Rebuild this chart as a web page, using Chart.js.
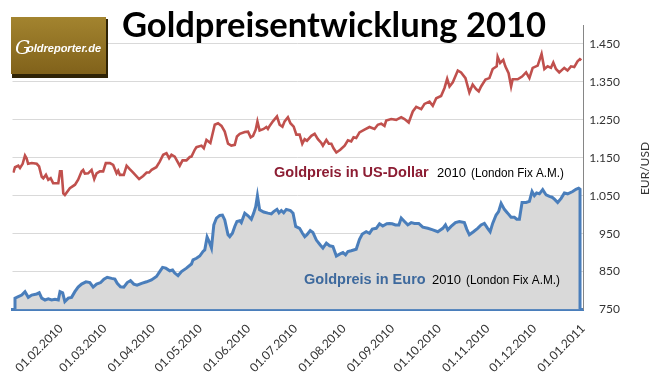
<!DOCTYPE html>
<html>
<head>
<meta charset="utf-8">
<script src="https://cdn.jsdelivr.net/npm/chart.js@4.4.0/dist/chart.umd.min.js"></script>
<style>
  html, body { margin: 0; padding: 0; background: #fff; }
</style>
</head>
<body>
<canvas id="gold" width="658" height="385"></canvas>
<script>
// Tage seit 01.01.2010 und Goldpreis in USD (London Fix A.M.)
const usdDays = [0.5,1.6,3.7,4.8,6.5,8,9,10,12.3,15.5,17,18.7,19.7,21.4,22.9,24.4,26,29.3,30.4,31.4,32.5,33.5,36.7,40,42,44.2,45.2,46.3,48.4,50.6,52.3,53.8,55.9,58,59.7,62.3,64.4,66.6,67.6,68.7,71.2,73,75,77.2,81,83.6,85.8,87.4,89,92,94.2,96.4,98.5,100.2,101.7,103.8,107,108.8,111.3,113.4,114.5,116.6,117.7,120.9,122.4,124.1,126.6,129.4,131.5,133.7,135.8,137.9,140,142.2,143.6,145.4,148.6,150.7,152.4,153.9,155.6,156.7,158.1,160.7,162.4,163.4,164.5,166.6,169.2,170.9,172.7,174.1,176.2,177.8,179.9,181.6,183.7,185.4,186.9,188.4,191.2,193.3,195.4,197.6,198.6,200.8,202.4,204,205.4,207.2,209.7,212.5,214.6,216.7,218.2,219.9,222,225.2,228.4,231.6,233.7,235.9,238,239.1,242.3,245.5,248.7,250.8,253.5,256.1,258.3,261.5,263.6,266.8,268.9,271.1,274.2,276.4,278.1,279.6,281.7,284.9,287,289.8,292.3,294.4,296.6,298.3,299.8,302.6,305.1,307.2,309.8,310.4,312,314,315.3,317.4,319,320,323.2,326,328.6,330.7,332.8,336,338.5,340.3,342.4,344.5,346,347.7,349.8,353,355.1,357.3,359.4,361.5,363,363.9];
const usdPrice = [1111,1125,1129,1123,1134,1156,1149,1134,1136,1134,1127,1100,1096,1105,1092,1096,1083,1083,1114,1114,1056,1052,1070,1079,1092,1114,1118,1108,1109,1118,1094,1109,1114,1114,1136,1136,1131,1109,1116,1105,1105,1129,1120,1111,1094,1102,1111,1111,1118,1125,1140,1158,1162,1149,1158,1153,1129,1143,1143,1152,1153,1171,1178,1182,1175,1197,1189,1237,1241,1234,1219,1187,1182,1184,1206,1213,1218,1219,1204,1208,1224,1246,1222,1226,1231,1226,1234,1246,1259,1237,1232,1246,1257,1241,1232,1211,1211,1187,1199,1195,1208,1213,1199,1189,1182,1197,1187,1187,1175,1164,1171,1182,1196,1193,1204,1202,1217,1224,1231,1226,1237,1240,1234,1248,1252,1250,1257,1252,1243,1272,1284,1278,1292,1298,1287,1307,1313,1334,1358,1338,1349,1380,1375,1360,1322,1343,1331,1325,1338,1356,1360,1384,1391,1416,1400,1408,1391,1373,1338,1357,1357,1364,1375,1360,1387,1393,1424,1384,1391,1387,1401,1384,1375,1387,1380,1391,1389,1404,1410,1407];

// Tage seit 01.01.2010 und Goldpreis in Euro
const eurDays = [1.6,3.7,5.9,8,10.1,12.3,15.5,17.1,18.7,20.8,22.9,25,27.2,29.3,30.4,32.1,33.5,35.7,37.8,39.9,42,44.2,47,49.5,51.6,53.8,56.4,58.5,60.6,63.4,65.5,67,69.1,71.2,73.4,75.5,77.6,79.7,82.6,85.8,88.9,92.1,94.2,96,98.1,100.6,102.4,103.8,105.9,108.1,111.3,114.5,115.5,117.7,119.8,121.9,123,124.5,125.8,127.3,128.8,130.5,132.6,134.3,135.8,137.9,139,140.7,142.2,143.6,145.4,146.4,148.6,150.7,152.8,154.3,155.6,156.7,158.1,160.7,163.4,165.6,167.1,169.2,170.5,172,173.5,175.2,177.8,179.5,181.2,183.7,185.5,187,188.4,190.5,192.2,194.4,196.9,198.6,200.8,202.9,205,207.2,209.3,211.4,213.1,214.6,216.7,219.9,222,223.8,226.3,228.4,230.2,232.7,234.8,236.9,239.5,241.2,242.9,245,247.2,248.7,250.8,252.9,255.1,257.2,259.9,262.5,265.7,268.9,272.1,275.3,277,278.5,280.6,283.4,285.9,289.1,290.6,292.3,294.9,297.6,299.8,301.9,304,305.6,307.2,309.4,311,312.6,314.7,316.8,319,321.1,322.6,324.3,326,328.6,330.7,332.4,333.9,335.3,337.1,339.2,341.4,343.5,345.2,346.7,348.8,351,353.1,355.2,358.4,360.5,362.2,363.1];
const eurPrice = [780,784,788,797,782,788,791,794,780,775,778,775,777,775,797,794,771,780,782,797,809,817,823,821,809,817,821,830,835,832,830,819,810,809,821,826,817,814,819,823,828,837,850,861,859,852,854,846,839,850,859,870,881,885,891,903,907,941,929,912,973,991,998,999,986,947,942,951,969,982,984,979,1004,997,988,1004,1021,1050,1013,1007,1004,1002,1008,1014,1005,1011,1005,1014,1011,1004,969,964,951,942,947,958,953,933,920,912,925,918,916,891,896,900,894,903,905,909,935,949,955,951,962,964,976,970,976,977,976,973,973,991,982,973,979,977,977,967,964,960,955,964,973,960,969,979,982,979,962,947,955,964,973,977,964,955,977,999,1008,1030,1014,1004,993,993,988,988,1032,1032,1035,1061,1050,1057,1055,1066,1052,1048,1046,1041,1032,1043,1057,1055,1061,1067,1070,1067];

// Achsen
const monthLabels = ['01.02.2010','01.03.2010','01.04.2010','01.05.2010','01.06.2010','01.07.2010','01.08.2010','01.09.2010','01.10.2010','01.11.2010','01.12.2010','01.01.2011'];
const yTicks = [750, 850, 950, 1050, 1150, 1250, 1350, 1450];

const titleText = 'Goldpreisentwicklung 2010';
const usdLabel = 'Goldpreis in US-Dollar';
const eurLabel = 'Goldpreis in Euro';
const yearText = '2010';
const fixText = '(London Fix A.M.)';
const axisTitle = 'EUR/USD';
const logoText = 'oldreporter.de';

const yMin = 750, yMax = 1500;

function dayOf(label) {
  const p = label.split('.');
  return (Date.UTC(+p[2], +p[1] - 1, +p[0]) - Date.UTC(2010, 0, 1)) / 864e5;
}
function fmt(v) {
  if (v < 1000) return String(v);
  return Math.floor(v / 1000) + '.' + String(v % 1000).padStart(3, '0');
}

const usdData = usdDays.map((d, i) => ({ x: d, y: usdPrice[i] }));
const eurData = eurDays.map((d, i) => ({ x: d, y: eurPrice[i] }));
// Flaeche unten schliessen
eurData.unshift({ x: eurDays[0], y: yMin });
eurData.push({ x: eurDays[eurDays.length - 1], y: yMin });

const monthValues = monthLabels.map(dayOf);

const deko = {
  id: 'deko',
  afterDraw(chart) {
    const c = chart.ctx;
    c.save();

    // Titel
    c.fillStyle = '#000';
    c.textBaseline = 'alphabetic';
    c.textAlign = 'center';
    c.font = 'bold 38px Lato';
    let w = c.measureText(titleText).width;
    c.font = 'bold ' + (38 * 424 / w).toFixed(1) + 'px Lato';
    c.fillText(titleText, 334, 37);

    // Logo
    c.fillStyle = '#2f2306';
    c.fillRect(12, 19, 96, 59);
    const g = c.createLinearGradient(0, 17, 0, 75);
    g.addColorStop(0, '#a3842f');
    g.addColorStop(1, '#80611a');
    c.fillStyle = g;
    c.fillRect(11, 17, 95, 57);
    c.fillStyle = '#fff';
    c.textAlign = 'left';
    c.font = 'italic 19px "DejaVu Serif"';
    c.fillText('G', 15, 54);
    c.font = 'bold italic 11.5px "Liberation Sans"';
    c.fillText(logoText, 27, 52, 74);

    // Beschriftung USD
    c.font = 'bold 14.5px "Liberation Sans"';
    c.fillStyle = '#8c1d33';
    c.fillText(usdLabel, 274, 176.5, 156);
    c.fillStyle = '#000';
    c.font = '13px "Liberation Sans"';
    c.fillText(yearText, 437, 176.5);
    c.fillText(fixText, 471, 176.5, 93);

    // Beschriftung EUR
    c.font = 'bold 14.5px "Liberation Sans"';
    c.fillStyle = '#3d699d';
    c.fillText(eurLabel, 304, 283.5, 122);
    c.fillStyle = '#000';
    c.font = '13px "Liberation Sans"';
    c.fillText(yearText, 432, 283.5);
    c.fillText(fixText, 466, 283.5, 94);

    // Achsentitel
    c.translate(645, 168.5);
    c.rotate(-Math.PI / 2);
    c.textAlign = 'center';
    c.textBaseline = 'middle';
    c.font = '12px Lato';
    c.fillStyle = '#333';
    c.fillText(axisTitle, 0, 0);
    c.restore();
  }
};

new Chart(document.getElementById('gold'), {
  type: 'line',
  data: {
    datasets: [
      {
        label: 'Euro',
        data: eurData,
        borderColor: '#4a7ebb',
        backgroundColor: '#d9d9d9',
        borderWidth: 3,
        fill: 'start',
        pointRadius: 0,
        tension: 0
      },
      {
        label: 'USD',
        data: usdData,
        borderColor: '#c0504d',
        borderWidth: 2.6,
        fill: false,
        pointRadius: 0,
        tension: 0
      }
    ]
  },
  options: {
    responsive: false,
    animation: false,
    events: [],
    layout: { padding: { left: 12.5, right: 38, top: 25, bottom: 0 } },
    plugins: {
      legend: { display: false },
      title: { display: false },
      tooltip: { enabled: false }
    },
    scales: {
      x: {
        type: 'linear',
        min: 0,
        max: 365,
        z: 1,
        grid: { display: false },
        border: { display: true, color: '#4a7ebb', width: 3 },
        afterBuildTicks: (s) => { s.ticks = monthValues.map(v => ({ value: v })); },
        afterFit: (s) => { s.height = 75.5; s.paddingLeft = 0; s.paddingRight = 0; },
        ticks: {
          autoSkip: false,
          maxRotation: 45,
          minRotation: 45,
          padding: 4,
          color: '#333',
          font: { family: 'Lato', size: 12 },
          callback: (v) => monthLabels[monthValues.indexOf(v)]
        }
      },
      y: {
        position: 'right',
        min: yMin,
        max: yMax,
        grid: { color: '#d9d9d9', lineWidth: 1, drawTicks: false },
        border: { display: true, color: '#868686', width: 1 },
        afterBuildTicks: (s) => { s.ticks = yTicks.map(v => ({ value: v })); },
        afterFit: (s) => { s.width = 37; s.paddingTop = 0; s.paddingBottom = 0; },
        ticks: {
          crossAlign: 'far',
          padding: 6,
          color: '#333',
          font: { family: 'Lato', size: 12 },
          callback: (v) => fmt(v)
        }
      }
    }
  },
  plugins: [deko]
});
</script>
</body>
</html>
